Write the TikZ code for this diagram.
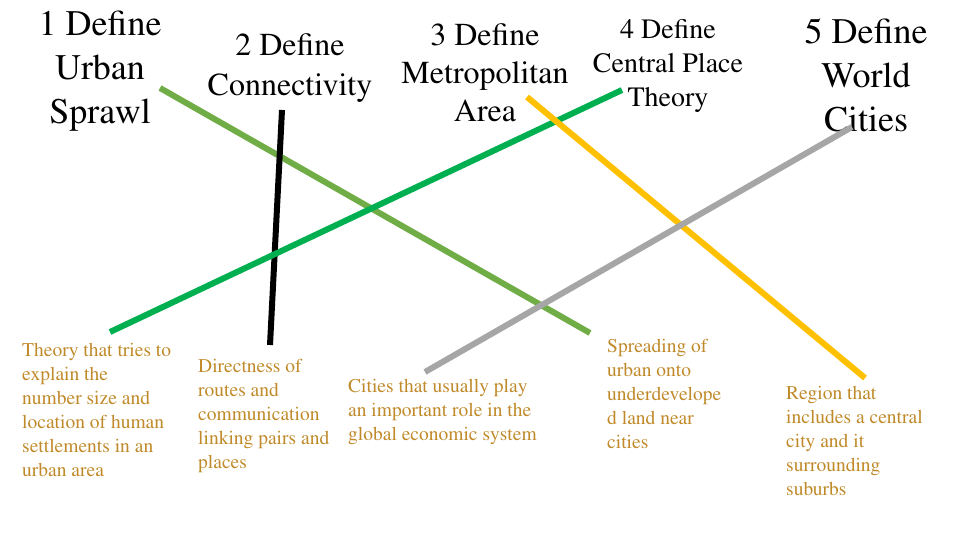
\documentclass[tikz,border=0pt]{standalone}
\usepackage[T1]{fontenc}
\usepackage{mathptmx}
\definecolor{lgreen}{HTML}{70AD47}
\definecolor{dgreen}{HTML}{00B050}
\definecolor{amber}{HTML}{FFC000}
\definecolor{lgray}{HTML}{A6A6A6}
\definecolor{ochre}{HTML}{C08A2A}
\begin{document}
\begin{tikzpicture}[x=1pt,y=-1pt,
 title/.style={align=center,inner sep=0pt},
 desc/.style={align=left,anchor=north west,inner sep=0pt,text=ochre,font=\fontsize{19.5}{24}\selectfont},
 bar/.style={line width=6pt}]
\useasboundingbox (0,0) rectangle (960,540);
\node[title,font=\fontsize{36}{44}\selectfont] (t1) at (100,71) {1 Define\\Urban\\Sprawl};
\node[title,font=\fontsize{32}{40}\selectfont] (t2) at (290,68) {2 Define\\Connectivity};
\node[title,font=\fontsize{32}{38}\selectfont] (t3) at (485,73) {3 Define\\Metropolitan\\Area};
\node[title,font=\fontsize{28}{34}\selectfont] (t4) at (668,66) {4 Define\\Central Place\\Theory};
\node[title,font=\fontsize{36}{44}\selectfont] (t5) at (866,75) {5 Define\\World\\Cities};
\node[desc] (d1) at (22,343) {Theory that tries to\\explain the\\number size and\\location of human\\settlements in an\\urban area};
\node[desc] (d2) at (198,359) {Directness of\\routes and\\communication\\linking pairs and\\places};
\node[desc] (d3) at (348,379) {Cities that usually play\\an important role in the\\global economic system};
\node[desc] (d4) at (607,339) {Spreading of\\urban onto\\underdevelope\\d land near\\cities};
\node[desc] (d5) at (786,386) {Region that\\includes a central\\city and it\\surrounding\\suburbs};
\coordinate (a1) at (160,88); \coordinate (a2) at (590,333);
\coordinate (b1) at (282,110); \coordinate (b2) at (270,345);
\coordinate (c1) at (110,332); \coordinate (c2) at (622,90);
\coordinate (e1) at (527,97); \coordinate (e2) at (865,378);
\coordinate (f1) at (425,372); \coordinate (f2) at (852,127);
\draw[bar,lgreen] (a1) -- (a2);
\draw[bar,black] (b1) -- (b2);
\draw[bar,dgreen] (c1) -- (c2);
\draw[bar,amber] (e1) -- (e2);
\draw[bar,lgray] (f1) -- (f2);
\end{tikzpicture}
\end{document}
